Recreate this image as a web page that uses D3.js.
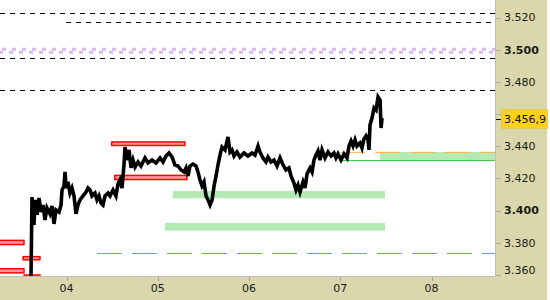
<!DOCTYPE html>
<html>
<head>
<meta charset="utf-8">
<script src="https://cdn.jsdelivr.net/npm/d3@7"></script>
<style>
  body { margin: 0; background: #fff; }
  svg { display: block; font-family: "DejaVu Sans", Verdana, sans-serif; }
</style>
</head>
<body>
<svg id="chart"></svg>
<script>
// price path (day of month, price)
const days = [3.611, 3.622, 3.644, 3.655, 3.677, 3.699, 3.721, 3.742, 3.764, 3.786,
  3.819, 3.841, 3.863, 3.885, 3.918, 3.940, 3.951, 3.973, 3.984, 3.995,
  4.016, 4.038, 4.060, 4.082, 4.104, 4.126, 4.148, 4.181, 4.214, 4.236,
  4.258, 4.279, 4.312, 4.334, 4.356, 4.378, 4.400, 4.422, 4.455, 4.477,
  4.510, 4.542, 4.564, 4.586, 4.608, 4.630, 4.641, 4.663, 4.685, 4.707,
  4.729, 4.751, 4.784, 4.816, 4.860, 4.893, 4.937, 4.981, 5.025, 5.058,
  5.090, 5.123, 5.156, 5.189, 5.222, 5.255, 5.288, 5.310, 5.332, 5.353,
  5.386, 5.419, 5.441, 5.463, 5.485, 5.507, 5.529, 5.551, 5.573, 5.595,
  5.617, 5.639, 5.660, 5.682, 5.704, 5.737, 5.770, 5.792, 5.814, 5.836,
  5.868, 5.901, 5.945, 5.989, 6.033, 6.066, 6.099, 6.120, 6.153, 6.186,
  6.208, 6.241, 6.274, 6.307, 6.340, 6.373, 6.405, 6.438, 6.460, 6.493,
  6.515, 6.537, 6.559, 6.592, 6.614, 6.636, 6.669, 6.691, 6.712, 6.734,
  6.756, 6.778, 6.800, 6.833, 6.866, 6.899, 6.931, 6.953, 6.975, 7.008,
  7.041, 7.074, 7.096, 7.118, 7.140, 7.162, 7.183, 7.216, 7.238, 7.260,
  7.282, 7.304, 7.315, 7.326, 7.348, 7.370, 7.392, 7.414, 7.436, 7.447, 7.458];
const prices = [3.3590, 3.4084, 3.3910, 3.4066, 3.3973, 3.4078, 3.3991, 3.4035, 3.3941, 3.4016,
  3.3979, 3.4028, 3.3917, 3.4004, 3.3991, 3.4035, 3.4128, 3.4153, 3.4240, 3.4140,
  3.4178, 3.4109, 3.4140, 3.4091, 3.3979, 3.4035, 3.4066, 3.4091, 3.4115, 3.4140,
  3.4128, 3.4091, 3.4109, 3.4066, 3.4091, 3.4047, 3.4035, 3.4091, 3.4109, 3.4091,
  3.4128, 3.4091, 3.4165, 3.4190, 3.4140, 3.4283, 3.4395, 3.4314, 3.4377, 3.4265,
  3.4314, 3.4271, 3.4302, 3.4277, 3.4327, 3.4296, 3.4314, 3.4296, 3.4327, 3.4302,
  3.4339, 3.4358, 3.4333, 3.4283, 3.4277, 3.4252, 3.4240, 3.4265, 3.4215, 3.4277,
  3.4289, 3.4277, 3.4240, 3.4190, 3.4153, 3.4178, 3.4091, 3.4066, 3.4035, 3.4066,
  3.4153, 3.4215, 3.4283, 3.4345, 3.4395, 3.4377, 3.4457, 3.4364, 3.4377, 3.4339,
  3.4364, 3.4333, 3.4358, 3.4339, 3.4358, 3.4345, 3.4401, 3.4364, 3.4327, 3.4302,
  3.4333, 3.4302, 3.4314, 3.4277, 3.4327, 3.4283, 3.4252, 3.4265, 3.4215, 3.4171,
  3.4128, 3.4159, 3.4115, 3.4178, 3.4140, 3.4228, 3.4265, 3.4240, 3.4314, 3.4345,
  3.4370, 3.4314, 3.4377, 3.4327, 3.4364, 3.4339, 3.4358, 3.4327, 3.4352, 3.4314,
  3.4352, 3.4327, 3.4401, 3.4432, 3.4401, 3.4439, 3.4401, 3.4420, 3.4389, 3.4445,
  3.4464, 3.4439, 3.4377, 3.4532, 3.4575, 3.4638, 3.4625, 3.4706, 3.4687, 3.4513, 3.4575];
const lastPrice = 3.4569;

// red zones and green zones: day range and price range
const redZones = [
  {from: 4.488, to: 5.306, hi: 3.4431, lo: 3.4400},
  {from: 4.521, to: 5.328, hi: 3.4223, lo: 3.4188},
  {from: 3.200, to: 3.542, hi: 3.3819, lo: 3.3784},
  {from: 3.200, to: 3.542, hi: 3.3643, lo: 3.3608},
  {from: 3.516, to: 3.717, hi: 3.3718, lo: 3.3689},
  {from: 3.527, to: 3.717, hi: 3.3604, lo: 3.3580}
];
const greenZones = [
  {from: 5.167, to: 7.490, hi: 3.4122, lo: 3.4076},
  {from: 5.079, to: 7.490, hi: 3.3923, lo: 3.3875},
  {from: 7.436, to: 9.000, hi: 3.4364, lo: 3.4313}
];

// horizontal levels
const blackLevels = [
  {price: 3.5226, from: 3.0},
  {price: 3.5170, from: 3.995},
  {price: 3.4948, from: 3.0},
  {price: 3.4749, from: 3.0}
];
const purpleLevel = 3.4993;
const blueLevel = {price: 3.3734, from: 4.334};
const orangeLevel = {price: 3.4362, from: 7.0};
const greenLevel = {price: 3.4311, from: 7.0};

const dayTicks = [4, 5, 6, 7, 8];
const dayLabels = ["04", "05", "06", "07", "08"];
const priceTicks = [3.36, 3.38, 3.40, 3.42, 3.44, 3.46, 3.48, 3.50, 3.52];
const boldTicks = [3.40, 3.50];

const W = 550, H = 300;
const plotW = 495, plotH = 276, axisRight = 547;

const svg = d3.select("#chart").attr("width", W).attr("height", H);

const x = d3.scaleLinear().domain([3.2712, 8.6957]).range([0, plotW]);
const y = d3.scaleLinear().domain([3.3593, 3.5309]).range([plotH, 0]);

// axis backgrounds
svg.append("rect").attr("x", plotW).attr("y", 0).attr("width", axisRight - plotW).attr("height", H).attr("fill", "#d9d7ab");
svg.append("rect").attr("x", 0).attr("y", plotH).attr("width", axisRight).attr("height", H - plotH).attr("fill", "#d9d7ab");

svg.append("clipPath").attr("id", "plot")
  .append("rect").attr("width", plotW).attr("height", plotH);

const plot = svg.append("g").attr("clip-path", "url(#plot)");
plot.append("rect").attr("width", plotW).attr("height", plotH).attr("fill", "#fff");

// green zones
plot.selectAll("rect.green").data(greenZones).join("rect")
  .attr("class", "green")
  .attr("x", d => x(d.from))
  .attr("y", d => y(d.hi))
  .attr("width", d => x(d.to) - x(d.from))
  .attr("height", d => y(d.lo) - y(d.hi))
  .attr("fill", "#b4ebb4");

// red zones
plot.selectAll("rect.red").data(redZones).join("rect")
  .attr("class", "red")
  .attr("x", d => x(d.from) + 0.75)
  .attr("y", d => y(d.hi) + 0.75)
  .attr("width", d => x(d.to) - x(d.from) - 1.5)
  .attr("height", d => y(d.lo) - y(d.hi) - 1.5)
  .attr("fill", "#ff9a9a")
  .attr("stroke", "#ff0000")
  .attr("stroke-width", 1.5);

// dashed levels
plot.selectAll("line.lvl").data(blackLevels).join("line")
  .attr("class", "lvl")
  .attr("x1", d => Math.max(0, x(d.from))).attr("x2", plotW)
  .attr("y1", d => Math.round(y(d.price)) + 0.5).attr("y2", d => Math.round(y(d.price)) + 0.5)
  .attr("stroke", "#000").attr("stroke-dasharray", "5,5");

const py = y(purpleLevel);
plot.append("line").attr("x1", 0).attr("x2", plotW)
  .attr("y1", py - 1.5).attr("y2", py - 1.5)
  .attr("stroke", "#dab8f0").attr("stroke-width", 3)
  .attr("stroke-dasharray", "4,6").attr("stroke-dashoffset", -2);
plot.append("line").attr("x1", 0).attr("x2", plotW)
  .attr("y1", py + 1.5).attr("y2", py + 1.5)
  .attr("stroke", "#dab8f0").attr("stroke-width", 3)
  .attr("stroke-dasharray", "4,6").attr("stroke-dashoffset", 1);

plot.append("line")
  .attr("x1", x(blueLevel.from)).attr("x2", plotW)
  .attr("y1", Math.round(y(blueLevel.price)) + 0.5).attr("y2", Math.round(y(blueLevel.price)) + 0.5)
  .attr("stroke", "#6f96e8").attr("stroke-dasharray", "25,10");

plot.append("line")
  .attr("x1", x(greenLevel.from)).attr("x2", plotW)
  .attr("y1", y(greenLevel.price)).attr("y2", y(greenLevel.price))
  .attr("stroke", "#3ec73e").attr("stroke-width", 1);

plot.append("line")
  .attr("x1", x(orangeLevel.from)).attr("x2", plotW)
  .attr("y1", y(orangeLevel.price)).attr("y2", y(orangeLevel.price))
  .attr("stroke", "#ffb23a").attr("stroke-width", 1)
  .attr("stroke-dasharray", "25,10");

// price line
const line = d3.line().x((d, i) => x(days[i])).y(d => y(d));
plot.append("path")
  .datum(prices)
  .attr("d", line)
  .attr("fill", "none")
  .attr("stroke", "#000")
  .attr("stroke-width", 3.6)
  .attr("stroke-linejoin", "miter");

// frame
svg.append("line").attr("x1", plotW + 0.5).attr("x2", plotW + 0.5).attr("y1", 0).attr("y2", plotH)
  .attr("stroke", "#bdbdbd");
svg.append("line").attr("x1", 0).attr("x2", plotW).attr("y1", plotH + 0.5).attr("y2", plotH + 0.5)
  .attr("stroke", "#bdbdbd");

const ly = y(lastPrice);

// right axis (labels under the price tag are hidden)
const yAxis = svg.append("g");
yAxis.selectAll("line").data(priceTicks).join("line")
  .attr("x1", plotW + 1).attr("x2", plotW + 6)
  .attr("y1", d => Math.round(y(d)) + 0.5).attr("y2", d => Math.round(y(d)) + 0.5)
  .attr("stroke", "#a8a8a8");
yAxis.selectAll("text").data(priceTicks.filter(d => Math.abs(y(d) - ly) > 12)).join("text")
  .attr("x", plotW + 9)
  .attr("y", d => Math.min(y(d), 270))
  .attr("dy", "0.36em")
  .attr("font-size", 11)
  .attr("font-weight", d => boldTicks.includes(d) ? "bold" : "normal")
  .attr("fill", "#1a1a1a")
  .text(d => d3.format(".3f")(d));

// last price tag
const tagText = d3.format(".4f")(lastPrice);
svg.append("rect").attr("x", plotW + 6.5).attr("y", ly - 9.5).attr("width", 46).attr("height", 19)
  .attr("fill", "#ffd21a").attr("stroke", "#e8c85a");
svg.append("line").attr("x1", plotW + 1).attr("x2", plotW + 6)
  .attr("y1", Math.round(ly) + 0.5).attr("y2", Math.round(ly) + 0.5).attr("stroke", "#000");
svg.append("text").attr("x", plotW + 9).attr("y", ly).attr("dy", "0.36em")
  .attr("font-size", 11).attr("fill", "#111")
  .text(tagText.slice(0, 5) + "," + tagText.slice(5));

// bottom axis
const xAxis = svg.append("g");
xAxis.selectAll("line").data(dayTicks).join("line")
  .attr("x1", d => Math.round(x(d)) + 0.5).attr("x2", d => Math.round(x(d)) + 0.5)
  .attr("y1", plotH + 1).attr("y2", plotH + 5)
  .attr("stroke", "#a8a8a8");
xAxis.selectAll("text").data(dayTicks).join("text")
  .attr("x", d => x(d))
  .attr("y", 292)
  .attr("text-anchor", "middle")
  .attr("font-size", 11)
  .attr("fill", "#1a1a1a")
  .text((d, i) => dayLabels[i]);
</script>
</body>
</html>
